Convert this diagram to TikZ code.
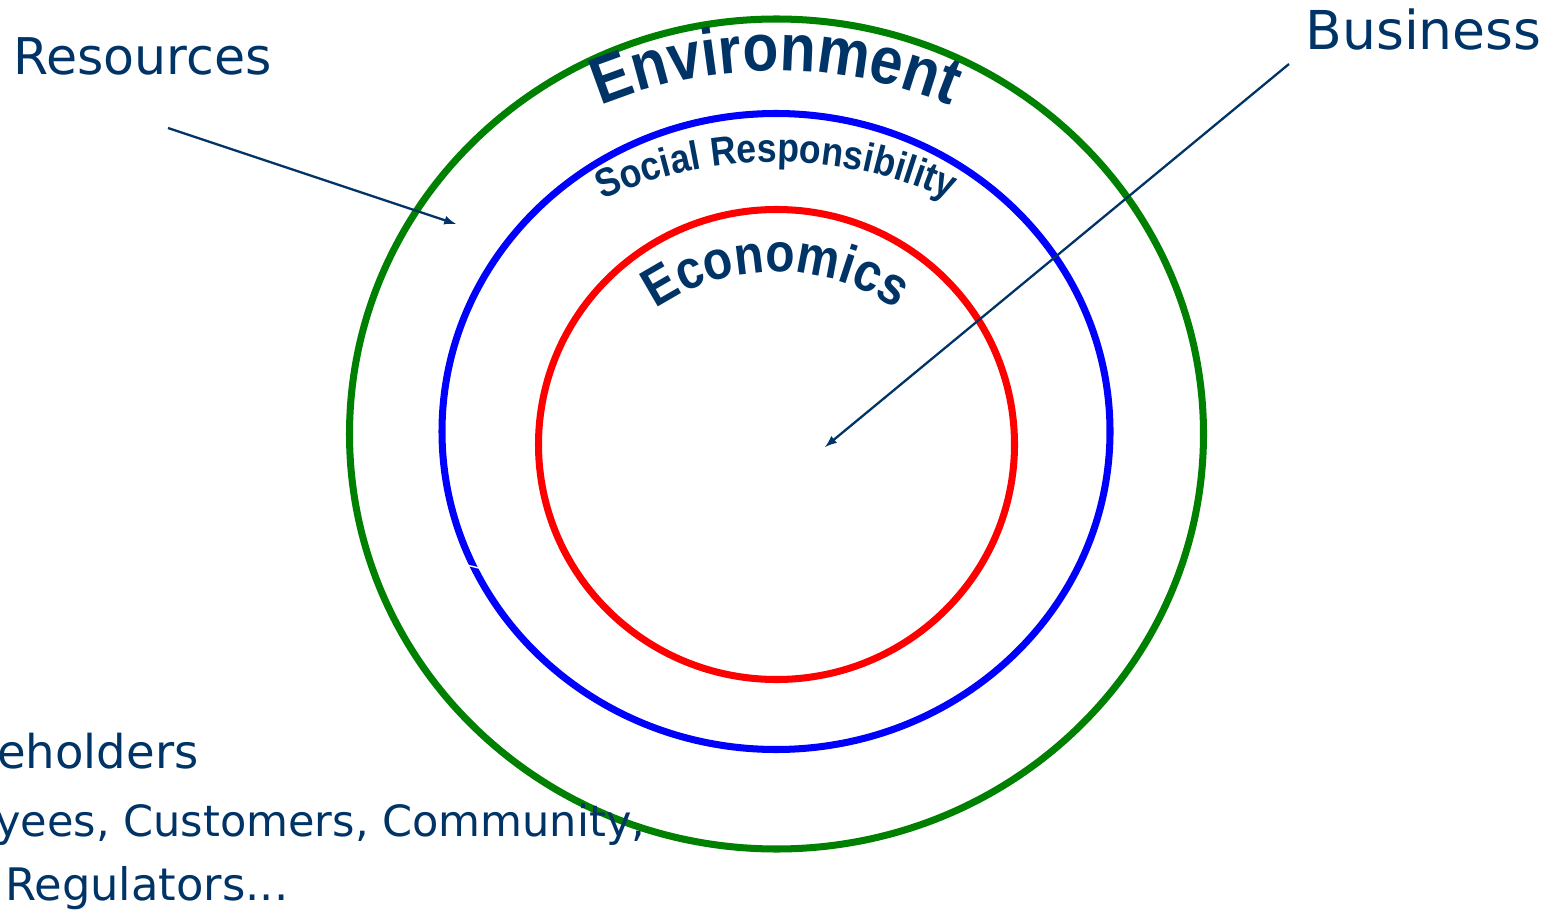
\documentclass[tikz,border=0pt]{standalone}
\usepackage{fontspec}
\setmainfont{DejaVu Sans}
\newfontfamily\ringfont[FakeStretch=0.88]{Liberation Sans}
\usetikzlibrary{decorations.text}

\definecolor{navy}{RGB}{0,51,102}
\definecolor{ringgreen}{RGB}{0,128,0}

\tikzset{
  ring/.style={line width=4pt},
  labeltext/.style={inner sep=0pt, anchor=base west, text=navy},
  pointer/.style={navy, line width=1.3pt, -latex},
}

\begin{document}
\begin{tikzpicture}[x=0.02cm, y=0.02cm]
\useasboundingbox (0,0) rectangle (1562,914);

% rings
\draw[ring, ringgreen] (776.5,480) ellipse (427 and 415);
\draw[ring, blue] (776,482.5) ellipse (334 and 318);
\draw[ring, red] (776.5,469.5) ellipse (238 and 235);
\draw[white, line width=0.8pt] (462,350)--(479,346);

% ring titles
\path[decorate, decoration={text along path, text align=center,
  text={|\ringfont\bfseries\fontsize{38}{40}\selectfont\color{navy}|Environment}}]
  (316,383) arc[start angle=180, end angle=0, radius=460];
\path[decorate, decoration={text along path, text align=center,
  text={|\ringfont\bfseries\fontsize{23}{25}\selectfont\color{navy}|Social Responsibility}}]
  (357,333) arc[start angle=180, end angle=0, radius=419];
\path[decorate, decoration={text along path, text align=center,
  text={|\ringfont\bfseries\fontsize{31}{33}\selectfont\color{navy}|Economics}}]
  (563,429) arc[start angle=180, end angle=0, radius=213];

% labels
\node[labeltext, font=\fontsize{28.8}{30}\selectfont] (resources) at (13,839) {Resources};
\node[labeltext, font=\fontsize{30.5}{32}\selectfont] (business) at (1305,864) {Business};
\node[labeltext, font=\fontsize{26.5}{28}\selectfont] (holders) at (-3,146) {eholders};
\node[labeltext, font=\fontsize{24.5}{26}\selectfont] (groups) at (-5,78) {yees, Customers, Community,};
\node[labeltext, font=\fontsize{25.5}{27}\selectfont] (regulators) at (5,14) {Regulators...};

% pointers
\coordinate (resTail) at (168,786);
\coordinate (resTip) at (456,690);
\coordinate (busTail) at (1289,850);
\coordinate (busTip) at (825,467);
\begin{scope}[pointer]
\draw (resTail)--(resTip);
\draw (busTail)--(busTip);
\end{scope}

\end{tikzpicture}
\end{document}
